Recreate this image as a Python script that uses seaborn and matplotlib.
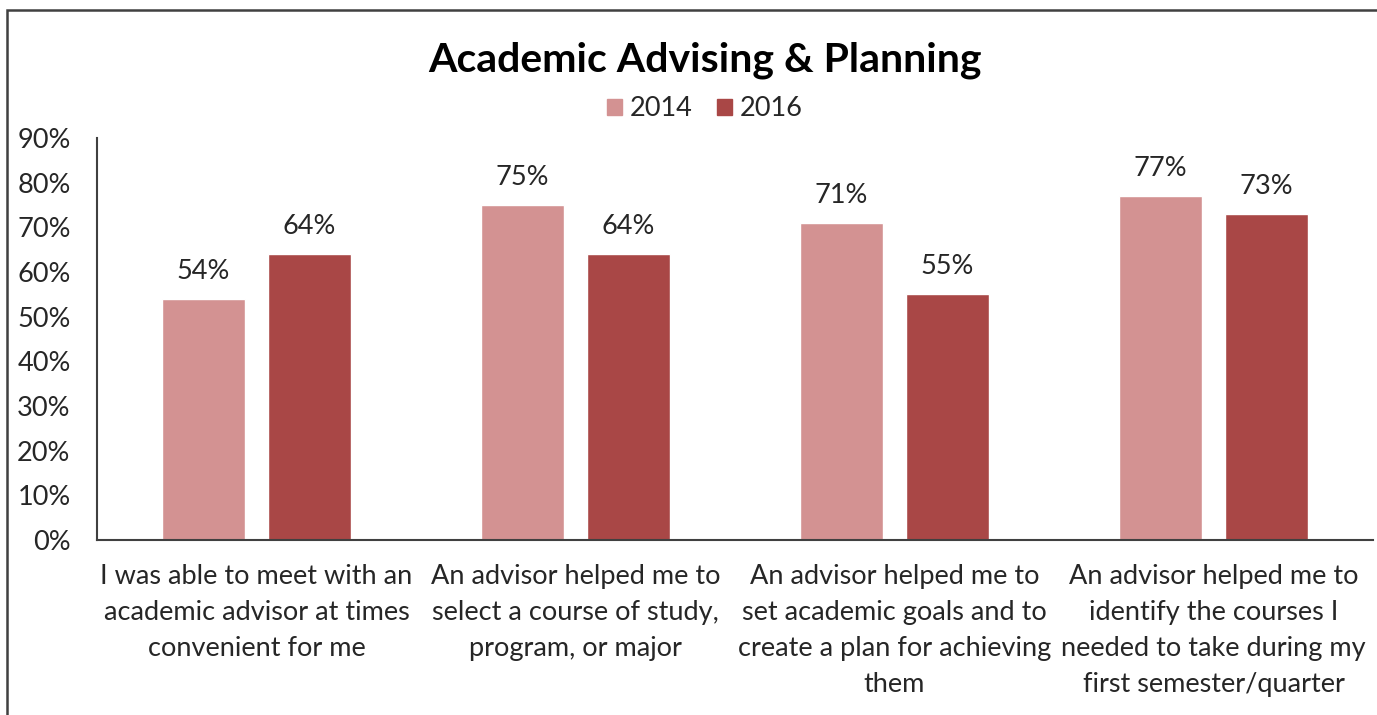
import matplotlib
matplotlib.use("Agg")
import matplotlib.pyplot as plt
import matplotlib.patches as mpatches
import seaborn as sns
import pandas as pd

# Survey items and percentages agreeing, by year
categories = [
    "I was able to meet with an\nacademic advisor at times\nconvenient for me",
    "An advisor helped me to\nselect a course of study,\nprogram, or major",
    "An advisor helped me to\nset academic goals and to\ncreate a plan for achieving\nthem",
    "An advisor helped me to\nidentify the courses I\nneeded to take during my\nfirst semester/quarter",
]
years = ["2014", "2016"]
values_2014 = [54, 75, 71, 77]
values_2016 = [64, 64, 55, 73]
y_ticks = [0, 10, 20, 30, 40, 50, 60, 70, 80, 90]

colors = {"2014": "#D39292", "2016": "#A94746"}
text_color = "#262626"
fs = 19.5

df = pd.DataFrame({
    "item": categories * 2,
    "year": ["2014"] * len(categories) + ["2016"] * len(categories),
    "pct": values_2014 + values_2016,
})

sns.set_theme(style="white")
plt.rcParams["font.family"] = ["Lato", "DejaVu Sans"]

W, H = 1377, 715
fig = plt.figure(figsize=(W / 100, H / 100), dpi=100)
ax = fig.add_axes([97 / W, 1 - 540 / H, (1373 - 97) / W, (540 - 138) / H])

sns.barplot(data=df, x="item", y="pct", hue="year", order=categories,
            hue_order=years, palette=colors, width=0.665, gap=0.21,
            saturation=1, ax=ax, legend=False)

for cont in ax.containers:
    ax.bar_label(cont, labels=[f"{v:.0f}%" for v in cont.datavalues],
                 padding=11, fontsize=fs, color=text_color)

ax.set_ylim(0, 90)
ax.set_xlim(-0.5, len(categories) - 0.5)
ax.set_yticks(y_ticks)
ax.set_yticklabels([f"{t}%" for t in y_ticks], fontsize=fs, color=text_color)
ax.set_xticks(range(len(categories)))
ax.set_xticklabels(categories, fontsize=fs, color=text_color, linespacing=1.55)
ax.tick_params(axis="y", length=0, pad=19)
ax.tick_params(axis="x", length=0, pad=17)
ax.set_xlabel("")
ax.set_ylabel("")
for side in ["top", "right"]:
    ax.spines[side].set_visible(False)
for side in ["left", "bottom"]:
    ax.spines[side].set_color("#404040")
    ax.spines[side].set_linewidth(1.5)

fig.text(705 / W, 1 - 60 / H, "Academic Advising & Planning", ha="center",
         va="center", fontsize=29.5, fontweight="bold", color="black")

handles = [mpatches.Patch(color=colors[y], label=y) for y in years]
fig.legend(handles=handles, loc="center", bbox_to_anchor=(705 / W, 1 - 109 / H),
           ncol=2, frameon=False, fontsize=fs, handlelength=0.55,
           handleheight=0.55, handletextpad=0.3, columnspacing=0.9,
           labelcolor=text_color)

# outer frame around the chart area
frame = mpatches.Rectangle((7 / W, -0.1), 1.2, 1 - 10 / H + 0.1,
                           transform=fig.transFigure, fill=False,
                           edgecolor="#404040", linewidth=1.8)
fig.add_artist(frame)

fig.savefig("out.png", dpi=100)
